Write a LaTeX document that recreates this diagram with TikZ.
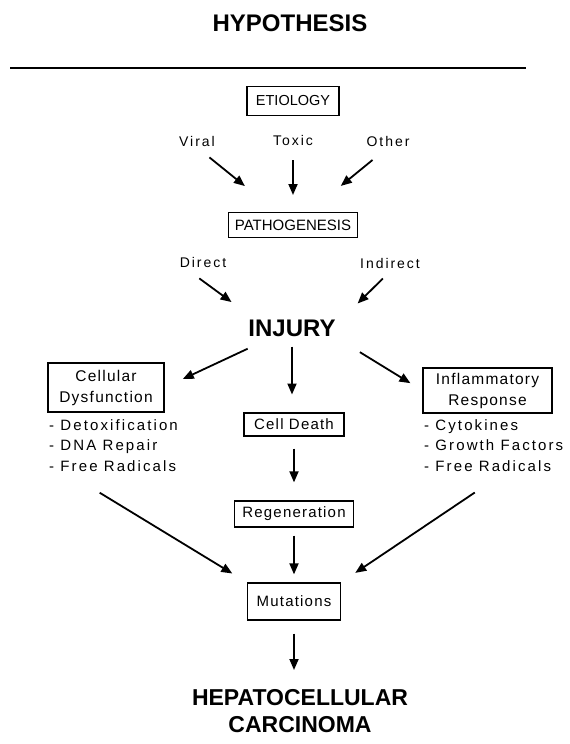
\documentclass[tikz,border=0pt]{standalone}
\usepackage{fontspec}
\setmainfont{Liberation Sans}
\newfontfamily\spaced[LetterSpace=14]{Liberation Sans}
\newfontfamily\boxfont[LetterSpace=8]{Liberation Sans}
\usetikzlibrary{arrows.meta}

\begin{document}
\begin{tikzpicture}[x=1pt, y=-1pt,
		box/.style={draw, line width=1.3pt, inner sep=0pt, align=center},
		bbox/.style={box, font=\boxfont\fontsize{15}{21}\selectfont},
		lbl/.style={inner sep=1pt, font=\spaced\fontsize{14}{16}\selectfont},
		title/.style={inner sep=2pt, align=center, font=\bfseries\fontsize{24}{27}\selectfont},
		list/.style={inner sep=1pt, align=left, anchor=north west, font=\spaced\fontsize{15}{20.5}\selectfont},
		arr/.style={-{Triangle[length=11pt,width=9pt]}, line width=1.8pt}]
			
			\useasboundingbox (0,0) rectangle (570,744);
			
			\node[title] (hyp) at (290,23) {HYPOTHESIS};
			\draw[line width=2pt] (10,68) -- (526,68);
			
			\node[box, minimum width=92pt, minimum height=29pt, font=\fontsize{14.5}{16}\selectfont] (etio) at (293,101) {ETIOLOGY};
			\node[lbl] (viral) at (197,141) {Viral};
			\node[lbl] (toxic) at (293,140) {Toxic};
			\node[lbl] (other) at (388,141) {Other};
			\node[box, minimum width=129pt, minimum height=25pt, font=\fontsize{15}{17}\selectfont] (patho) at (293,225) {PATHOGENESIS};
			\node[lbl] (direct) at (203,262) {Direct};
			\node[lbl] (indirect) at (390,263) {Indirect};
			\node[title] (injury) at (292,328) {INJURY};
			
			\node[bbox, minimum width=116pt, minimum height=49pt, font=\boxfont\fontsize{15.5}{21}\selectfont] (cell) at (106,387.5) {Cellular\\Dysfunction};
			\node[list] (cdlist) at (48,418) {- Detoxification\\- DNA Repair\\- Free Radicals};
			\node[bbox, minimum width=100pt, minimum height=23pt] (death) at (294,424.5) {Cell Death};
			\node[bbox, minimum width=129pt, minimum height=45pt, font=\boxfont\fontsize{15.5}{21}\selectfont] (infl) at (487.5,390.5) {Inflammatory\\Response};
			\node[list] (irlist) at (423,418) {- Cytokines\\- Growth Factors\\- Free Radicals};
			\node[bbox, minimum width=119pt, minimum height=26pt] (regen) at (294,514) {Regeneration};
			\node[bbox, minimum width=93pt, minimum height=37pt] (mut) at (294,601.5) {Mutations};
			\node[title, font=\bfseries\fontsize{23}{27}\selectfont] (hcc) at (300,711) {HEPATOCELLULAR\\CARCINOMA};
			
			% causes
			\draw[arr, shorten <=16pt, shorten >=41pt] (viral.south) -- (patho);
			\draw[arr, shorten <=14pt, shorten >=30pt] (toxic) -- (toxic |- patho);
			\draw[arr, shorten <=20pt, shorten >=41pt] (other.south) -- (patho);
			\draw[arr, shorten <=17pt, shorten >=26pt] (direct.-160) -- (injury.165);
			\draw[arr, shorten <=13pt, shorten >=28pt] (indirect.-72) -- (injury.6);
			
			% consequences
			\draw[arr, shorten <=24pt, shorten >=20pt] (injury) -- (cell.east);
			\draw[arr, shorten <=8pt, shorten >=30pt] (injury) -- (injury |- death);
			\draw[arr, shorten <=26pt, shorten >=14pt] (injury.south east) -- (infl.west);
			\draw[arr, shorten <=12pt, shorten >=18pt] (death) -- (regen);
			\draw[arr, shorten <=8pt, shorten >=8pt] (regen) -- (mut);
			\draw[arr, shorten <=39pt, shorten >=17pt] (cdlist.-150) -- (mut.north west);
			\draw[arr, shorten <=36pt, shorten >=17pt] (irlist.-68) -- (mut.north east);
			\draw[arr, shorten <=13pt, shorten >=41pt] (mut) -- (mut |- hcc);
			
		\end{tikzpicture}
\end{document}
